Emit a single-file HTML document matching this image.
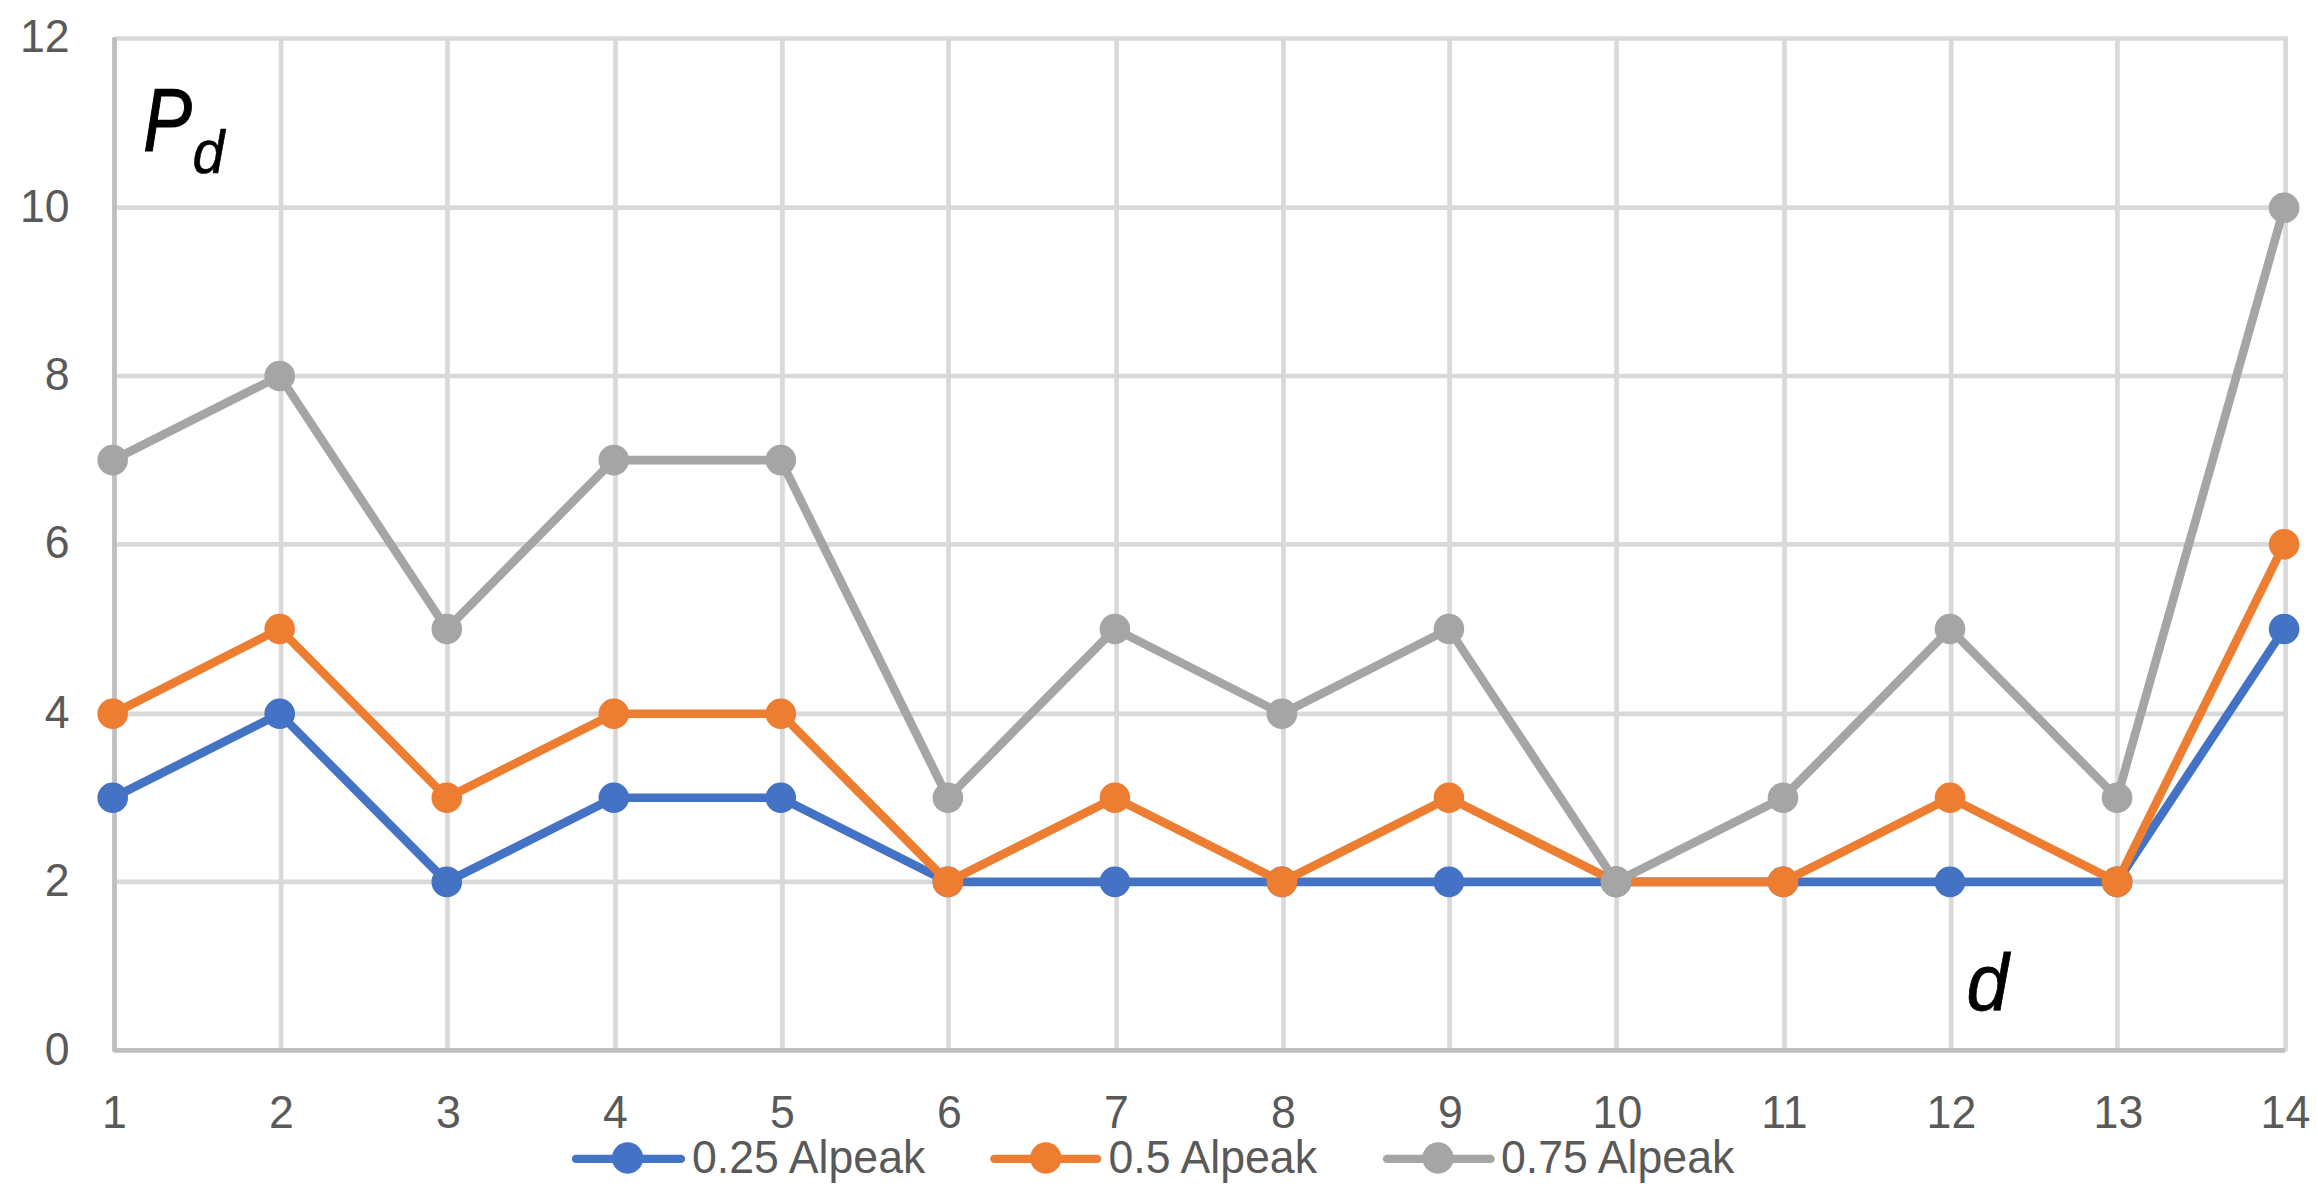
<!DOCTYPE html>
<html lang="en"><head><meta charset="utf-8"><title>Pd chart</title>
<style>
html,body{margin:0;padding:0;background:#fff;}
body{width:2318px;height:1193px;overflow:hidden;}
svg{display:block;}
.ax{font-family:"Liberation Sans",sans-serif;font-size:47px;fill:#595959;}
.it{font-family:"Liberation Sans",sans-serif;font-style:italic;fill:#000;}
</style></head><body>
<svg width="2318" height="1193" viewBox="0 0 2318 1193">
<rect x="0" y="0" width="2318" height="1193" fill="#ffffff"/>
<g stroke="#d9d9d9" stroke-width="4.7" fill="none">
<line x1="114.5" y1="881.9" x2="2288.0" y2="881.9"/>
<line x1="114.5" y1="713.8" x2="2288.0" y2="713.8"/>
<line x1="114.5" y1="544.3" x2="2288.0" y2="544.3"/>
<line x1="114.5" y1="376.0" x2="2288.0" y2="376.0"/>
<line x1="114.5" y1="207.7" x2="2288.0" y2="207.7"/>
<line x1="114.5" y1="38.5" x2="2288.0" y2="38.5"/>
<line x1="281.1" y1="36.2" x2="281.1" y2="1050.4"/>
<line x1="447.5" y1="36.2" x2="447.5" y2="1050.4"/>
<line x1="615.5" y1="36.2" x2="615.5" y2="1050.4"/>
<line x1="782.4" y1="36.2" x2="782.4" y2="1050.4"/>
<line x1="948.5" y1="36.2" x2="948.5" y2="1050.4"/>
<line x1="1116.6" y1="36.2" x2="1116.6" y2="1050.4"/>
<line x1="1283.5" y1="36.2" x2="1283.5" y2="1050.4"/>
<line x1="1449.6" y1="36.2" x2="1449.6" y2="1050.4"/>
<line x1="1616.6" y1="36.2" x2="1616.6" y2="1050.4"/>
<line x1="1784.5" y1="36.2" x2="1784.5" y2="1050.4"/>
<line x1="1951.2" y1="36.2" x2="1951.2" y2="1050.4"/>
<line x1="2117.4" y1="36.2" x2="2117.4" y2="1050.4"/>
<line x1="2285.6" y1="36.2" x2="2285.6" y2="1050.4"/>
</g>
<g stroke="#bfbfbf" stroke-width="4.8" fill="none" stroke-linejoin="round">
<polyline points="114.5,37.3 114.5,1050.4 2285.1,1050.4"/>
</g>
<polygon fill="#d9d9d9" points="2285.10,1048.00 2287.95,1048.00 2287.95,1050.40 2285.10,1052.80"/>
<g fill="#4472c4" stroke="none">
<polyline points="112.7,797.8 279.7,713.8 446.8,881.9 613.8,797.8 780.8,797.8 947.9,881.9 1114.9,881.9 1281.9,881.9 1448.9,881.9 1616.0,881.9 1783.0,881.9 1950.0,881.9 2117.1,881.9 2284.1,629.0" fill="none" stroke="#4472c4" stroke-width="8.6" stroke-linejoin="round" stroke-linecap="round"/>
<circle cx="112.7" cy="797.8" r="15.3"/>
<circle cx="279.7" cy="713.8" r="15.3"/>
<circle cx="446.8" cy="881.9" r="15.3"/>
<circle cx="613.8" cy="797.8" r="15.3"/>
<circle cx="780.8" cy="797.8" r="15.3"/>
<circle cx="947.9" cy="881.9" r="15.3"/>
<circle cx="1114.9" cy="881.9" r="15.3"/>
<circle cx="1281.9" cy="881.9" r="15.3"/>
<circle cx="1448.9" cy="881.9" r="15.3"/>
<circle cx="1616.0" cy="881.9" r="15.3"/>
<circle cx="1783.0" cy="881.9" r="15.3"/>
<circle cx="1950.0" cy="881.9" r="15.3"/>
<circle cx="2117.1" cy="881.9" r="15.3"/>
<circle cx="2284.1" cy="629.0" r="15.3"/>
</g>
<g fill="#ed7d31" stroke="none">
<polyline points="112.7,713.8 279.7,629.0 446.8,797.8 613.8,713.8 780.8,713.8 947.9,881.9 1114.9,797.8 1281.9,881.9 1448.9,797.8 1616.0,881.9 1783.0,881.9 1950.0,797.8 2117.1,881.9 2284.1,544.3" fill="none" stroke="#ed7d31" stroke-width="8.6" stroke-linejoin="round" stroke-linecap="round"/>
<circle cx="112.7" cy="713.8" r="15.3"/>
<circle cx="279.7" cy="629.0" r="15.3"/>
<circle cx="446.8" cy="797.8" r="15.3"/>
<circle cx="613.8" cy="713.8" r="15.3"/>
<circle cx="780.8" cy="713.8" r="15.3"/>
<circle cx="947.9" cy="881.9" r="15.3"/>
<circle cx="1114.9" cy="797.8" r="15.3"/>
<circle cx="1281.9" cy="881.9" r="15.3"/>
<circle cx="1448.9" cy="797.8" r="15.3"/>
<circle cx="1616.0" cy="881.9" r="15.3"/>
<circle cx="1783.0" cy="881.9" r="15.3"/>
<circle cx="1950.0" cy="797.8" r="15.3"/>
<circle cx="2117.1" cy="881.9" r="15.3"/>
<circle cx="2284.1" cy="544.3" r="15.3"/>
</g>
<g fill="#a5a5a5" stroke="none">
<polyline points="112.7,460.1 279.7,376.0 446.8,629.0 613.8,460.1 780.8,460.1 947.9,797.8 1114.9,629.0 1281.9,713.8 1448.9,629.0 1616.0,881.9 1783.0,797.8 1950.0,629.0 2117.1,797.8 2284.1,207.7" fill="none" stroke="#a5a5a5" stroke-width="8.6" stroke-linejoin="round" stroke-linecap="round"/>
<circle cx="112.7" cy="460.1" r="15.3"/>
<circle cx="279.7" cy="376.0" r="15.3"/>
<circle cx="446.8" cy="629.0" r="15.3"/>
<circle cx="613.8" cy="460.1" r="15.3"/>
<circle cx="780.8" cy="460.1" r="15.3"/>
<circle cx="947.9" cy="797.8" r="15.3"/>
<circle cx="1114.9" cy="629.0" r="15.3"/>
<circle cx="1281.9" cy="713.8" r="15.3"/>
<circle cx="1448.9" cy="629.0" r="15.3"/>
<circle cx="1616.0" cy="881.9" r="15.3"/>
<circle cx="1783.0" cy="797.8" r="15.3"/>
<circle cx="1950.0" cy="629.0" r="15.3"/>
<circle cx="2117.1" cy="797.8" r="15.3"/>
<circle cx="2284.1" cy="207.7" r="15.3"/>
</g>
<g>
<text class="ax" transform="translate(69.7 1065.0) scale(0.950 1)" text-anchor="end">0</text>
<text class="ax" transform="translate(69.7 895.9) scale(0.950 1)" text-anchor="end">2</text>
<text class="ax" transform="translate(69.7 727.8) scale(0.950 1)" text-anchor="end">4</text>
<text class="ax" transform="translate(69.7 558.3) scale(0.950 1)" text-anchor="end">6</text>
<text class="ax" transform="translate(69.7 390.0) scale(0.950 1)" text-anchor="end">8</text>
<text class="ax" transform="translate(69.7 221.7) scale(0.950 1)" text-anchor="end">10</text>
<text class="ax" transform="translate(69.7 51.6) scale(0.950 1)" text-anchor="end">12</text>
</g>
<g>
<text class="ax" transform="translate(114.4 1127.8) scale(0.950 1)" text-anchor="middle">1</text>
<text class="ax" transform="translate(281.4 1127.8) scale(0.950 1)" text-anchor="middle">2</text>
<text class="ax" transform="translate(448.4 1127.8) scale(0.950 1)" text-anchor="middle">3</text>
<text class="ax" transform="translate(615.4 1127.8) scale(0.950 1)" text-anchor="middle">4</text>
<text class="ax" transform="translate(782.4 1127.8) scale(0.950 1)" text-anchor="middle">5</text>
<text class="ax" transform="translate(949.4 1127.8) scale(0.950 1)" text-anchor="middle">6</text>
<text class="ax" transform="translate(1116.4 1127.8) scale(0.950 1)" text-anchor="middle">7</text>
<text class="ax" transform="translate(1283.4 1127.8) scale(0.950 1)" text-anchor="middle">8</text>
<text class="ax" transform="translate(1450.4 1127.8) scale(0.950 1)" text-anchor="middle">9</text>
<text class="ax" transform="translate(1617.4 1127.8) scale(0.950 1)" text-anchor="middle">10</text>
<text class="ax" transform="translate(1784.4 1127.8) scale(0.950 1)" text-anchor="middle">11</text>
<text class="ax" transform="translate(1951.4 1127.8) scale(0.950 1)" text-anchor="middle">12</text>
<text class="ax" transform="translate(2118.4 1127.8) scale(0.950 1)" text-anchor="middle">13</text>
<text class="ax" transform="translate(2285.4 1127.8) scale(0.950 1)" text-anchor="middle">14</text>
</g>
<g stroke-width="8.3" stroke-linecap="round">
<line x1="576.0" y1="1158.9" x2="681.0" y2="1158.9" stroke="#4472c4"/><circle cx="627.6" cy="1158.0" r="15.7" fill="#4472c4"/>
<line x1="994.3" y1="1158.9" x2="1097.2" y2="1158.9" stroke="#ed7d31"/><circle cx="1045.8" cy="1158.0" r="15.7" fill="#ed7d31"/>
<line x1="1387.0" y1="1158.9" x2="1490.6" y2="1158.9" stroke="#a5a5a5"/><circle cx="1438.0" cy="1158.0" r="15.7" fill="#a5a5a5"/>
</g>
<g>
<text class="ax" transform="translate(692.0 1172.7) scale(0.950 1)">0.25 Alpeak</text>
<text class="ax" transform="translate(1108.5 1172.7) scale(0.950 1)">0.5 Alpeak</text>
<text class="ax" transform="translate(1501.0 1172.7) scale(0.950 1)">0.75 Alpeak</text>
</g>
<text class="it" transform="translate(143.2 150.6) scale(0.815 1)" font-size="89.5" stroke="#000" stroke-width="1.2">P</text>
<text class="it" transform="translate(192.5 173.4) scale(0.940 1)" font-size="61" stroke="#000" stroke-width="0.6">d</text>
<text class="it" transform="translate(1966.4 1009.8) scale(0.950 1)" font-size="80" stroke="#000" stroke-width="0.8">d</text>
</svg>
</body></html>
